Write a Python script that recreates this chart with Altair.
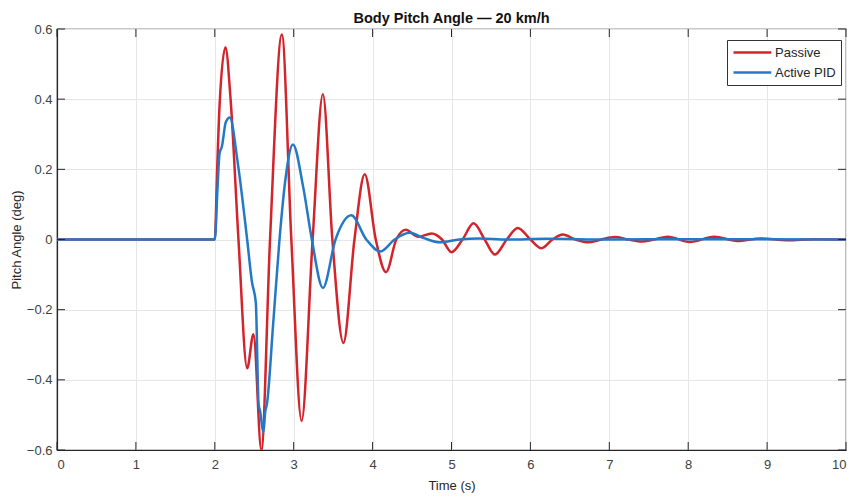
import altair as alt
import pandas as pd

# ---- data ----
passive_t = [0, 2.0, 2.03, 2.06, 2.135, 2.2, 2.30, 2.41, 2.49, 2.59, 2.70, 2.85, 2.97, 3.10, 3.24,
             3.37, 3.49, 3.63, 3.77, 3.90, 4.04, 4.17, 4.30, 4.42, 4.58, 4.75, 4.88, 5.00, 5.14,
             5.28, 5.42, 5.55, 5.70, 5.84, 6.00, 6.14, 6.28, 6.41, 6.57, 6.73, 6.90, 7.07, 7.24,
             7.41, 7.57, 7.74, 8.02, 8.33, 8.62, 8.92, 9.25, 9.60, 10.0]
passive_v = [0, 0, 0.20, 0.38, 0.548, 0.40, 0, -0.367, -0.27, -0.60, 0, 0.584, 0, -0.517, 0,
             0.414, 0, -0.295, 0, 0.186, 0, -0.093, 0, 0.028, 0.008, 0.017, 0, -0.036, 0,
             0.046, 0, -0.043, 0, 0.033, 0, -0.025, 0, 0.014, 0, -0.008, 0, 0.007, 0,
             -0.006, 0, 0.008, -0.007, 0.008, -0.004, 0.003, -0.002, 0.001, 0]

active_t = [0, 2.0, 2.035, 2.06, 2.09, 2.14, 2.19, 2.29, 2.41, 2.47, 2.52, 2.555, 2.575, 2.615,
            2.64, 2.66, 2.74, 2.82, 2.90, 2.99, 3.12, 3.23, 3.37, 3.53, 3.73, 3.92, 4.10, 4.28,
            4.47, 4.65, 4.85, 5.10, 5.35, 5.70, 6.20, 7.0, 8.0, 10.0]
active_v = [0, 0, 0.15, 0.245, 0.265, 0.335, 0.348, 0.22, 0, -0.12, -0.18, -0.47, -0.49, -0.55,
            -0.49, -0.47, -0.24, 0, 0.18, 0.271, 0.15, 0, -0.138, 0, 0.069, 0, -0.034, 0,
            0.019, 0.004, -0.008, 0, 0.003, 0, 0.002, 0, 0.001, 0]

series_names = ["Passive", "Active PID"]
series_colors = ["#D3232B", "#2479C6"]
x_ticks = list(range(0, 11))
y_ticks = [-0.6, -0.4, -0.2, 0, 0.2, 0.4, 0.6]

df = pd.concat([
    pd.DataFrame({"t": passive_t, "v": passive_v, "s": series_names[0], "o": 0}),
    pd.DataFrame({"t": active_t, "v": active_v, "s": series_names[1], "o": 1}),
])

W, H = 789, 421
TICK = 8
EDGE = "#262626"
FONT = "Liberation Sans"

xscale = alt.Scale(domain=[0, 10], nice=False, zero=False)
yscale = alt.Scale(domain=[-0.6, 0.6], nice=False, zero=False)

lines = alt.Chart(df).mark_line(
    strokeWidth=2.5, interpolate="monotone", clip=True
).encode(
    x=alt.X("t:Q", scale=xscale, title="Time (s)",
            axis=alt.Axis(values=x_ticks, format="d", titleFontWeight=400)),
    y=alt.Y("v:Q", scale=yscale, title="Pitch Angle (deg)",
            axis=alt.Axis(values=y_ticks, titleFontWeight=400,
                          labelExpr="datum.value == 0 ? '0' : format(datum.value, '.1f')")),
    color=alt.Color("s:N", scale=alt.Scale(domain=series_names, range=series_colors),
                    legend=alt.Legend(title=None, orient="none", legendX=670, legendY=11,
                                      symbolType="M-1,0H5.3", symbolSize=144, symbolStrokeWidth=2.6,
                                      labelFontSize=13, labelColor="#262626", labelFont=FONT,
                                      padding=5, rowPadding=5, strokeColor="#333333",
                                      fillColor="white", labelOffset=28)),
    order="o:Q",
)

xt = pd.DataFrame({"x": x_ticks})
yt = pd.DataFrame({"y": y_ticks})

xb = alt.Chart(xt).mark_rule(color=EDGE, strokeWidth=1).encode(
    x=alt.X("x:Q", scale=xscale), y=alt.value(H), y2=alt.value(H - TICK))
xtop = alt.Chart(xt).mark_rule(color=EDGE, strokeWidth=1).encode(
    x=alt.X("x:Q", scale=xscale), y=alt.value(0), y2=alt.value(TICK))
yl = alt.Chart(yt).mark_rule(color=EDGE, strokeWidth=1).encode(
    y=alt.Y("y:Q", scale=yscale), x=alt.value(0), x2=alt.value(TICK))
yr = alt.Chart(yt).mark_rule(color=EDGE, strokeWidth=1).encode(
    y=alt.Y("y:Q", scale=yscale), x=alt.value(W), x2=alt.value(W - TICK))

chart = alt.layer(lines, xb, xtop, yl, yr).properties(
    width=W, height=H,
    background="white",
    title=alt.Title("Body Pitch Angle \u2014 20 km/h", fontSize=14.5, fontWeight="bold",
                    font=FONT, color="#111111", anchor="middle", offset=-3),
    autosize=alt.AutoSizeParams(type="none"),
    padding={"left": 57, "top": 29, "right": 11, "bottom": 50},
).configure_view(
    stroke=EDGE, strokeWidth=1.2
).configure_axis(
    labelFont=FONT, labelFontSize=13, labelColor="#404040",
    titleFont=FONT, titleFontSize=13, titleFontWeight=400, titleColor="#262626",
    domainColor=EDGE, domainWidth=1.2, ticks=False, gridColor="#E6E6E6", gridWidth=1,
).configure_axisX(
    labelPadding=8, titlePadding=8
).configure_axisY(
    labelPadding=5, titlePadding=3
)

chart.save("out.html", embed_options={"renderer": "svg", "actions": False})
